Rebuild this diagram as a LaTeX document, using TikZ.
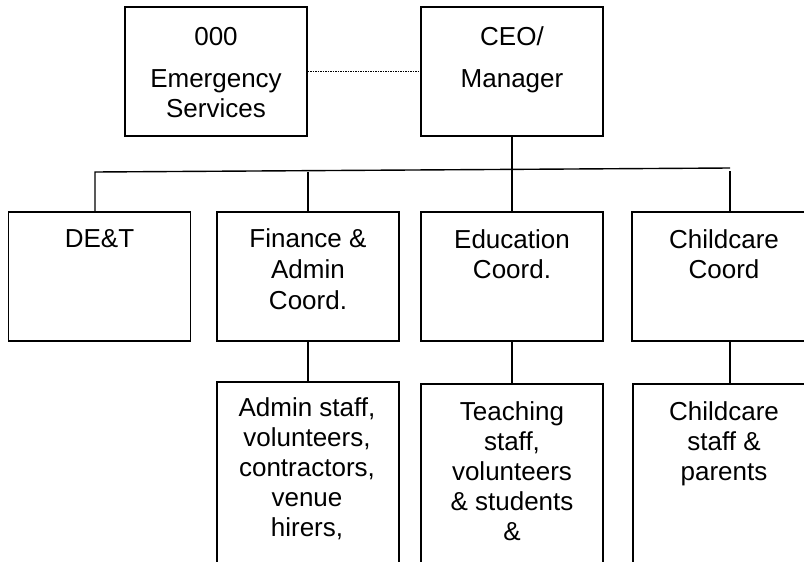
\documentclass[tikz,border=0pt]{standalone}
\usepackage{fontspec}
\setmainfont{Liberation Sans}
\begin{document}
\begin{tikzpicture}[x=1pt,y=-1pt,
    box/.style={draw,line width=1.6pt,minimum width=182pt,minimum height=129pt,inner sep=0pt},
    staffbox/.style={draw,line width=1.6pt,minimum width=182pt,minimum height=240pt,inner sep=0pt},
    txt/.style={align=center,anchor=base,inner sep=0pt,font=\fontsize{26}{30}\selectfont},
    link/.style={line width=1.4pt},
    dotlink/.style={line width=1.2pt,dash pattern=on 1.2pt off 1.3pt}]
    \useasboundingbox (0,0) rectangle (804,562);
    \clip (0,0) rectangle (804,562);

    % Top row (text placed by its last baseline)
    \node[box] (ems) at (216,71.5) {};
    \node[txt] (emstxt) at (216,117) {000\\[12pt]Emergency\\Services};
    \node[box] (ceo) at (512,71.5) {};
    \node[txt] (ceotxt) at (512,87) {CEO/\\[12pt]Manager};

    % Coordinators
    \node[box] (det) at (99.5,276.5) {};
    \node[txt] (dettxt) at (99.5,247) {DE\&T};
    \node[box] (fin) at (308,276.5) {};
    \node[txt] (fintxt) at (308,309) {Finance \&\\[1pt]Admin\\[1pt]Coord.};
    \node[box] (edu) at (512,276.5) {};
    \node[txt] (edutxt) at (512,278) {Education\\Coord.};
    \node[box] (cc) at (723,276.5) {};
    \node[txt] (cctxt) at (724,278) {Childcare\\Coord};

    % Staff
    \node[staffbox] (adm) at (308,502) {};
    \node[txt] (admtxt) at (307,536) {Admin staff,\\volunteers,\\contractors,\\venue\\hirers,};
    \node[staffbox] (tea) at (512,504) {};
    \node[txt] (teatxt) at (512,540) {Teaching\\staff,\\volunteers\\\& students\\\&};
    \node[staffbox] (ccs) at (724,504) {};
    \node[txt] (ccstxt) at (724,480) {Childcare\\staff \&\\parents};

    % Lines
    \coordinate (busl) at (95,172);
    \coordinate (busr) at (730,168);
    \draw[dotlink] (ems.east) -- (ceo.west);
    \draw[link] (ceo.south) -- (edu.north);
    \draw[link] (det.north -| busl) -- (busl) -- (busr);
    \draw[link] (fin.north) -- (fin.north |- busl);
    \draw[link] (busr |- cc.north) -- ++(0,-40);
    \draw[link] (fin.south) -- (adm.north);
    \draw[link] (edu.south) -- (tea.north);
    \draw[link] (cc.south -| busr) -- (ccs.north -| busr);
\end{tikzpicture}
\end{document}
